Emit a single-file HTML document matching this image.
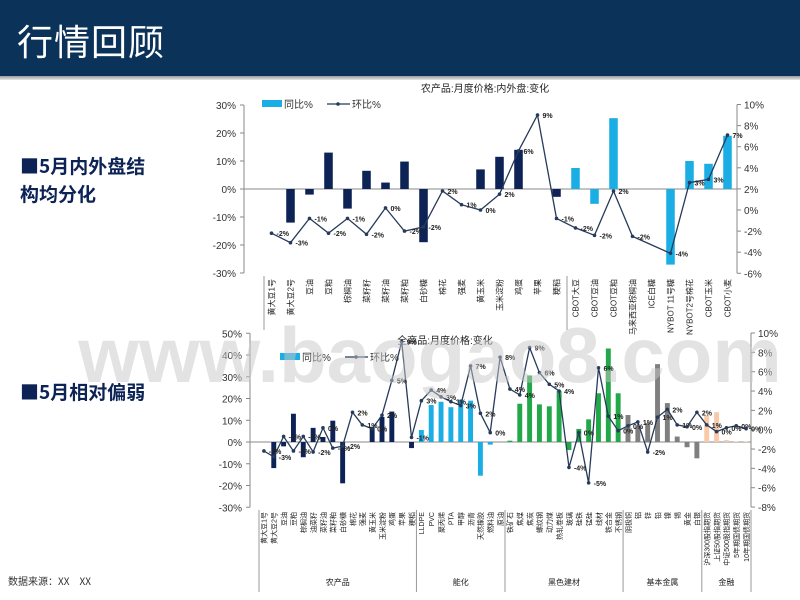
<!DOCTYPE html>
<html><head><meta charset="utf-8">
<style>
body{margin:0;width:800px;height:600px;overflow:hidden;background:#fff;font-family:"Liberation Sans","Noto Sans CJK SC",sans-serif;}
#hdr{position:absolute;left:0;top:0;width:800px;height:76px;background:#0b3359;}
#hdr-line{position:absolute;left:0;top:76px;width:800px;height:4px;background:linear-gradient(#9a9a9a,#e8e8e8);}
#title{position:absolute;left:17px;top:14px;color:#fff;font-size:36px;font-family:"Noto Sans CJK SC",sans-serif;letter-spacing:1px;}
.side{position:absolute;left:20px;color:#0d2356;font-size:19px;font-weight:bold;font-family:"Noto Sans CJK SC",sans-serif;line-height:28px;}
#src{position:absolute;left:8px;top:573px;font-size:10px;color:#333;font-family:"Noto Sans CJK SC",sans-serif;}
svg{position:absolute;left:0;top:0;}
</style></head><body>
<div id="hdr"></div>
<div id="hdr-line"></div>
<div id="title">行情回顾</div>
<div class="side" style="top:152px">■5月内外盘结<br>构均分化</div>
<div class="side" style="top:378px">■5月相对偏弱</div>
<div id="src">数据来源：XX　XX</div>
<svg id="chart" width="800" height="600"></svg>
<script>
const topCats=["黄大豆1号","黄大豆2号","豆油","豆粕","棕榈油","菜籽籽","菜籽油","菜籽粕","白砂糖","棉花","强麦","黄玉米","玉米淀粉","鸡蛋","苹果","粳稻","CBOT大豆","CBOT豆油","CBOT豆粕","马来西亚棕榈油","ICE白糖","NYBOT 11号糖","NYBOT2号棉花","CBOT玉米","CBOT小麦"];
const topYoy=[0,-12,-2,13,-7,6.5,2.3,9.8,-19,0,0,7,11.5,14,0,-2.8,7.5,-5.3,25.3,0,0,-27,10,9,19];
const topMom=[-2.2,-3.1,-0.8,-2.2,-0.8,-2.3,0.2,-2.0,-1.6,1.8,0.5,0.0,1.5,5.6,9.0,-0.8,-1.7,-2.4,1.8,-2.5,null,-4.1,2.6,2.9,7.1];
const topLeftTicks=[30,20,10,0,-10,-20,-30];
const topRightTicks=[10,8,6,4,2,0,-2,-4,-6];

const botCats=["黄大豆1号","黄大豆2号","豆油","豆粕","棕榈油","油菜籽","菜籽油","菜籽粕","白砂糖","棉花","强麦","黄玉米","玉米淀粉","鸡蛋","苹果","粳稻","LLDPE","PVC","聚丙烯","PTA","甲醇","沥青","天然橡胶","燃料油","原油","铁矿石","焦煤","焦炭","螺纹钢","动力煤","热轧卷板","玻璃","硅铁","锰硅","线材","铁合金","不锈钢","阴极铜","铝","锌","铅","镍","锡","黄金","白银","沪深300股指期货","上证50股指期货","中证500股指期货","5年期国债期货","10年期国债期货"];
const botYoy=[0,-12,-2,13,-7,6.5,2.3,9.8,-19,0,0,7,11.5,14,0,-2.8,5.5,17,18.5,16,19.5,19,-15.5,-1.2,0,0.6,17.6,30.6,17.3,16.4,23.4,-3.7,6,10.4,22.4,43,22.4,12.4,7,8.7,35.8,17.9,2.5,-2.4,-7.5,12.4,13.7,0.9,0.3,0.2];
const botMom=[-2.2,-2.8,-0.7,-2.2,-0.7,-2.3,0.2,-1.9,-1.7,1.8,0.5,0.1,1.5,5.1,9.1,-0.8,3.0,4.1,3.4,2.9,2.5,6.6,1.7,-0.3,7.5,4.2,3.6,8.5,5.9,4.7,4.0,-3.9,-0.3,-5.5,6.4,1.4,-0.1,0.4,0.8,-2.3,1.3,2.1,0.5,0.3,1.8,0.5,-0.2,0.2,0.4,0.1];
const botGroups=["农产品","能化","黑色建材","基本金属","金融"];
const botGroupSizes=[16,9,12,8,5];
const botColors=["#0d2356","#1aaee5","#22a848","#7f7f7f","#f9c9a8"];
const botLeftTicks=[50,40,30,20,10,0,-10,-20,-30];
const botRightTicks=[10,8,6,4,2,0,-2,-4,-6,-8];

const svg=document.getElementById('chart');
const NS='http://www.w3.org/2000/svg';
function mk(tag,attrs,parent){const e=document.createElementNS(NS,tag);for(const k in attrs)e.setAttribute(k,attrs[k]);(parent||svg).appendChild(e);return e;}
function txt(x,y,s,size,anchor,parent,extra){const t=mk('text',Object.assign({x:x,y:y,'font-size':size,'text-anchor':anchor||'start',fill:'#333','font-family':'"Liberation Sans","Noto Sans CJK SC",sans-serif'},extra||{}),parent);t.textContent=s;return t;}

function drawChart(o){
  const g=mk('g',{});
  
  
  const n=o.cats.length, bw=(o.x1-o.x0)/n;
  const X=i=>o.x0+bw*(i+0.5);
  const YL=v=>o.zeroL-v*o.kL;
  const YR=v=>o.zeroR-v*o.kR;
  const tt=txt(o.titleX,o.titleY,o.title,10,'middle',g,{fill:'#222'});
  
  
  mk('line',{x1:o.axL,y1:YL(o.lt[0]),x2:o.axL,y2:YL(o.lt[o.lt.length-1]),stroke:'#888','stroke-width':1},g);
  mk('line',{x1:o.axR,y1:YR(o.rt[0]),x2:o.axR,y2:YR(o.rt[o.rt.length-1]),stroke:'#888','stroke-width':1},g);
  mk('line',{x1:o.axL,y1:YL(0),x2:o.axR,y2:YL(0),stroke:'#888','stroke-width':1},g);
  o.lt.forEach(v=>{mk('line',{x1:o.axL-4,y1:YL(v),x2:o.axL,y2:YL(v),stroke:'#888'},g);
    const t=txt(o.axL-8,YL(v)+4,v+'%',10,'end',g);});
  o.rt.forEach(v=>{mk('line',{x1:o.axR,y1:YR(v),x2:o.axR+4,y2:YR(v),stroke:'#888'},g);
    const t=txt(o.axR+7,YR(v)+4,v+'%',10,'start',g);});
  o.yoy.forEach((v,i)=>{if(!v)return;
    const r=mk('rect',{x:X(i)-bw*o.barFrac/2,y:Math.min(YL(v),YL(0)),width:bw*o.barFrac,height:Math.abs(YL(v)-YL(0)),fill:o.colorOf(i)},g);
    
    });
  let d='';o.mom.forEach((v,i)=>{if(v===null)return;d+=(d?'L':'M')+X(i).toFixed(1)+','+YR(v).toFixed(1);});
  const p=mk('path',{d:d,fill:'none',stroke:'#263a5a','stroke-width':1.3},g);
  
  
  o.mom.forEach((v,i)=>{if(v===null)return;
    const c=mk('circle',{cx:X(i),cy:YR(v),r:1.8,fill:'#263a5a'},g);
    
    
    const t=txt(X(i)+5,YR(v)+o.lblDy,Math.round(v)+'%',o.lblSize,'start',g,{'font-weight':'bold',fill:'#222'});
    
    });
  o.cats.forEach((c,i)=>{
    const x=X(i)+o.catSize*0.4, y=o.catY;
    const t=txt(x,y,c,o.catSize,'end',g,{transform:'rotate(-90 '+x.toFixed(1)+' '+y+')',fill:'#222'});
    
    });
  const lr=mk('rect',{x:o.legX,y:o.legY-4,width:20,height:7,fill:'#1aaee5'},g);
  
  
  const l1=txt(o.legX+22,o.legY+4,'同比%',10,'start',g);
  
  
  mk('line',{x1:o.legX+65,y1:o.legY,x2:o.legX+88,y2:o.legY,stroke:'#263a5a','stroke-width':1.3},g);
  mk('circle',{cx:o.legX+76,cy:o.legY,r:1.8,fill:'#263a5a'},g);
  const l2=txt(o.legX+90,o.legY+4,'环比%',10,'start',g);
  
  
  return {g,X,bw};
}

const topC=drawChart({name:'top-chart',cats:topCats,yoy:topYoy,mom:topMom,lt:topLeftTicks,rt:topRightTicks,
  x0:262,x1:737,axL:244,axR:737,zeroL:189,kL:2.8,zeroR:210,kR:10.55,barFrac:0.45,
  colorOf:i=>i<16?'#0d2356':'#1aaee5',title:'农产品:月度价格:内外盘:变化',titleX:485,titleY:92,
  catY:279,catSize:8,legX:262,legY:104,lblDy:3,lblSize:7});
mk('line',{x1:264,y1:276,x2:264,y2:330,stroke:'#999'},topC.g);
mk('line',{x1:567,y1:276,x2:567,y2:330,stroke:'#999'},topC.g);

const botC=drawChart({name:'bottom-chart',cats:botCats,yoy:botYoy,mom:botMom,lt:botLeftTicks,rt:botRightTicks,
  x0:259,x1:751,axL:250,axR:751,zeroL:442,kL:2.175,zeroR:429.7,kR:9.67,barFrac:0.5,
  colorOf:i=>{let s=0;for(let k=0;k<botGroupSizes.length;k++){s+=botGroupSizes[k];if(i<s)return botColors[k];}return '#888';},
  title:'全商品:月度价格:变化',titleX:445,titleY:344,catY:512,catSize:7,legX:280,legY:357,lblDy:3,lblSize:7});
let start=0;
botGroups.forEach((gname,k)=>{
  const xl=botC.X(start)-botC.bw/2, xr=botC.X(start+botGroupSizes[k]-1)+botC.bw/2;
  mk('line',{x1:xl,y1:510,x2:xl,y2:592,stroke:'#999'},botC.g);
  const t=txt((xl+xr)/2,585,gname,8,'middle',botC.g,{fill:'#222'});
  
  
  start+=botGroupSizes[k];
});
mk('line',{x1:751,y1:510,x2:751,y2:592,stroke:'#999'},botC.g);
const wm=txt(430,382,'www.baogao8.com',78,'middle',svg,{fill:'#c8c8c8','fill-opacity':'0.5','font-weight':'bold'});


</script>
</body></html>
